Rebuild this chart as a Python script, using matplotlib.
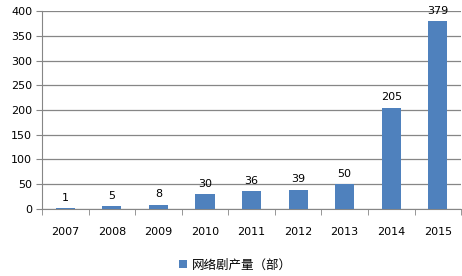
import matplotlib.pyplot as plt
import numpy as np

plt.rcParams['font.family'] = ['DejaVu Sans', 'Noto Sans CJK SC']

years = ['2007', '2008', '2009', '2010', '2011', '2012', '2013', '2014', '2015']
counts = [1, 5, 8, 30, 36, 39, 50, 205, 379]
series_name = '网络剧产量（部）'
yticks = [0, 50, 100, 150, 200, 250, 300, 350, 400]

bar_color = '#4F81BD'
grid_color = '#868686'

fig = plt.figure(figsize=(4.62, 2.76), dpi=100)
ax = fig.add_axes([0.091, 0.243, 0.907, 0.717])

x = np.arange(len(years))
bars = ax.bar(x, counts, width=0.41, color=bar_color, zorder=3, label=series_name)

for xi, v in zip(x, counts):
    ax.annotate(str(v), (xi, v), xytext=(0, 4), textcoords='offset points',
                ha='center', va='bottom', fontsize=8, color='black')

ax.set_xlim(-0.5, len(years) - 0.5)
ax.set_ylim(0, 400)
ax.set_yticks(yticks)
ax.set_yticklabels([str(t) for t in yticks], fontsize=8)
ax.yaxis.grid(True, color=grid_color, linewidth=0.9, zorder=0)

# category labels in the middle, tick marks at the boundaries
ax.set_xticks(x)
ax.set_xticklabels(years, fontsize=8)
ax.tick_params(axis='x', which='major', length=0, pad=13)
ax.set_xticks(np.arange(-0.5, len(years)), minor=True)
ax.tick_params(axis='x', which='minor', length=4, color=grid_color, direction='out')
ax.tick_params(axis='y', length=4, color=grid_color, direction='out', pad=3)

for side in ['top', 'right']:
    ax.spines[side].set_visible(False)
ax.spines['left'].set_color(grid_color)
ax.spines['bottom'].set_color(grid_color)

fig.legend(handles=[bars], labels=[series_name], loc='center',
           bbox_to_anchor=(0.51, 0.04), frameon=False,
           prop={'family': ['Noto Sans CJK SC', 'DejaVu Sans'], 'size': 9},
           handlelength=0.6, handleheight=0.6, handletextpad=0.4)

fig.savefig('out.png', dpi=100)
